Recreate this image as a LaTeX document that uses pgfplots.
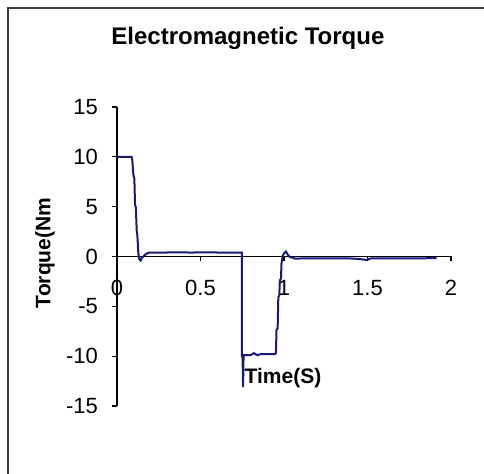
\documentclass[border=0pt]{standalone}
\usepackage{pgfplots}
\pgfplotsset{compat=1.18}
\usepackage{fontspec}
\setmainfont{Liberation Sans}
\definecolor{navyline}{RGB}{25,25,120}
\definecolor{frame}{RGB}{60,60,60}
\begin{document}
\begin{tikzpicture}
\useasboundingbox (0,0) rectangle (242pt,237pt);
\fill[white] (0,0) rectangle (242pt,237pt);
\draw[frame, line width=1pt] (4pt,-2pt) -- (4pt,233pt) -- (244pt,233pt);
\begin{axis}[
  at={(58.5pt,34pt)}, anchor=south west,
  scale only axis, width=167pt, height=149.5pt,
  xmin=0, xmax=2, ymin=-15, ymax=15,
  axis x line=middle, axis y line=left,
  hide obscured x ticks=false,
  axis line style={-, black, line width=0.6pt},
  xtick={0,0.5,1,1.5,2}, ytick={-15,-10,-5,0,5,10,15},
  xticklabels={0,0.5,1,1.5,2},
  tick align=outside, major tick length=2.5pt,
  tick style={black, line width=0.6pt},
  /pgf/number format/assume math mode=true,
  ticklabel style={font=\fontsize{11}{12}\selectfont},
  xticklabel style={yshift=-6pt},
  yticklabel style={xshift=-3.5pt},
  every axis title shift=0pt,
  title={\bfseries Electromagnetic Torque},
  title style={at={(rel axis cs:0.392,1.231)}, anchor=center, font=\fontsize{12}{14}\selectfont},
  xlabel={\bfseries Time(S)},
  xlabel style={at={(rel axis cs:0.497,0.094)}, anchor=center, font=\fontsize{10.5}{12}\selectfont},
  ylabel={\bfseries Torque(Nm},
  ylabel style={at={(rel axis cs:-0.216,0.512)}, anchor=center, rotate=0, font=\fontsize{10.5}{12}\selectfont},
  clip=false,
]
\addplot[navyline, line width=1pt] coordinates {
(0,10) (0.088,10) (0.092,9.6) (0.098,8.2) (0.104,7.8) (0.108,5.2) (0.113,4.9) (0.118,2.6) (0.122,2.1) (0.128,0.3)
(0.134,-0.3) (0.142,-0.4) (0.15,-0.1) (0.158,0.0) (0.17,0.2) (0.185,0.35) (0.198,0.4)
(0.3,0.4) (0.4,0.42) (0.45,0.38) (0.47,0.42) (0.5,0.4) (0.55,0.42) (0.6,0.4) (0.7,0.4) (0.748,0.4)
(0.748,-10) (0.752,-10) (0.755,-13.1) (0.758,-9.9) (0.8,-9.9) (0.82,-9.7) (0.84,-9.9) (0.86,-9.8) (0.9,-9.8) (0.948,-9.8)
(0.952,-9.6) (0.955,-7.4) (0.962,-7.2) (0.966,-4.1) (0.972,-3.9) (0.975,-2.4) (0.982,-2.2) (0.985,-0.7) (0.993,0.1)
(1.002,0.35) (1.012,0.5) (1.022,0.2) (1.036,-0.07) (1.05,-0.1) (1.066,-0.22) (1.1,-0.2)
(1.2,-0.2) (1.3,-0.18) (1.4,-0.2) (1.45,-0.25) (1.494,-0.35) (1.52,-0.2) (1.6,-0.2) (1.7,-0.18) (1.8,-0.2) (1.914,-0.15)
};
\end{axis}
\end{tikzpicture}
\end{document}
